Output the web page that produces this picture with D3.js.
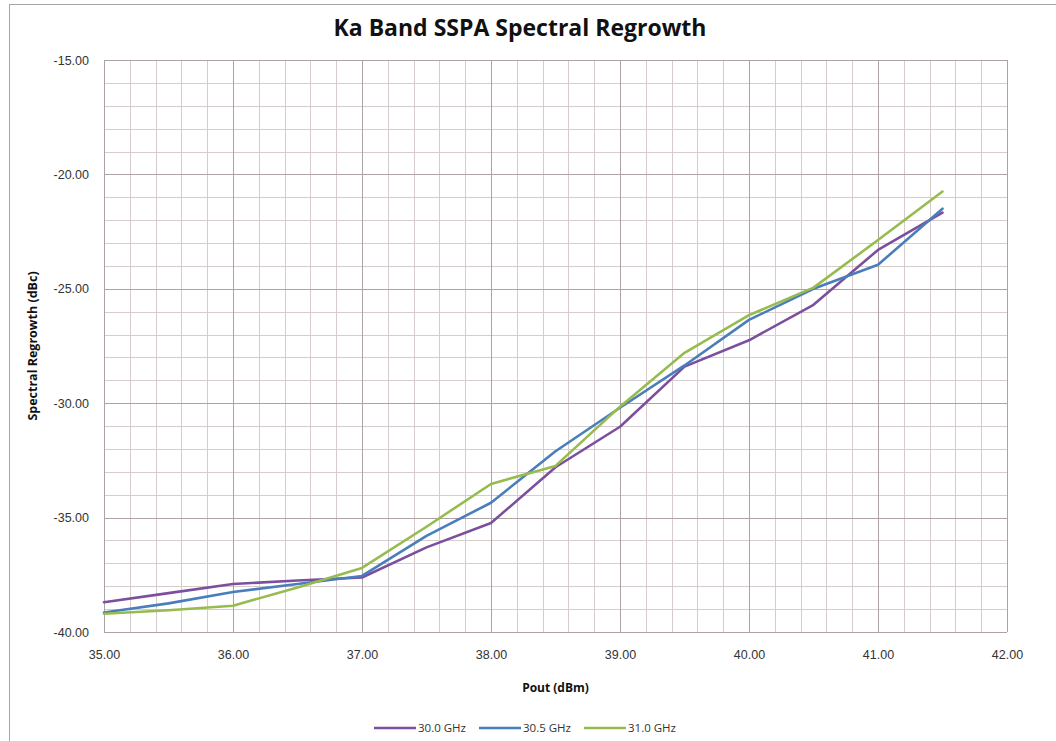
<!DOCTYPE html>
<html>
<head>
<meta charset="utf-8">
<script src="https://cdn.jsdelivr.net/npm/d3@7"></script>
<style>
  body { margin: 0; background: #fff; }
  svg { display: block; font-family: "Open Sans", "DejaVu Sans", sans-serif; }
</style>
</head>
<body>
<div id="chart"></div>
<script>
const width = 1056, height = 741,
    margin = ({ top: 60, right: 49, bottom: 109, left: 104 });

// data
const pout = [35, 35.5, 36, 36.5, 37, 37.5, 38, 38.5, 39, 39.5, 40, 40.5, 41, 41.5];
const ghz300 = [-38.7, -38.3, -37.9, -37.75, -37.62, -36.3, -35.24, -32.8, -31.03, -28.4, -27.25, -25.7, -23.3, -21.67];
const ghz305 = [-39.15, -38.75, -38.25, -37.9, -37.55, -35.8, -34.35, -32.1, -30.2, -28.35, -26.36, -25.0, -23.95, -21.5];
const ghz310 = [-39.2, -39.05, -38.85, -38.05, -37.2, -35.4, -33.53, -32.74, -30.15, -27.8, -26.15, -24.95, -22.87, -20.75];
const seriesNames = ["30.0 GHz", "30.5 GHz", "31.0 GHz"];
const seriesColors = ["#7b4f9e", "#4a7ebb", "#97bb4f"];
const xTicks = [35, 36, 37, 38, 39, 40, 41, 42];
const yTicks = [-15, -20, -25, -30, -35, -40];

const series = [ghz300, ghz305, ghz310].map((vals, i) => ({
  name: seriesNames[i],
  color: seriesColors[i],
  values: vals.map((v, j) => ({ x: pout[j], y: v }))
}));

const svg = d3.select("#chart")
  .append("svg")
  .attr("width", width)
  .attr("height", height);

// outer chart border
svg.append("rect")
  .attr("x", 9.5).attr("y", 4.5)
  .attr("width", width + 20).attr("height", height + 20)
  .attr("fill", "none")
  .attr("stroke", "#a6a6a6");

let x = d3.scaleLinear()
  .domain([35, 42])
  .range([margin.left, width - margin.right]);

let y = d3.scaleLinear()
  .domain([-40, -15])
  .range([height - margin.bottom, margin.top]);

// grid: minor lines first, then the major ones on top
const grid = svg.append("g");
const xMinor = d3.range(35, 42.001, 0.2);
const yMinor = d3.range(-40, -14.999, 1);

grid.selectAll(".vminor")
  .data(xMinor)
  .join("line")
  .attr("x1", d => Math.round(x(d)) + 0.5)
  .attr("x2", d => Math.round(x(d)) + 0.5)
  .attr("y1", y(-15)).attr("y2", y(-40))
  .attr("stroke", "#d5cccb");

grid.selectAll(".hminor")
  .data(yMinor)
  .join("line")
  .attr("y1", d => Math.round(y(d)) + 0.5)
  .attr("y2", d => Math.round(y(d)) + 0.5)
  .attr("x1", x(35)).attr("x2", x(42))
  .attr("stroke", "#d5cccb");

grid.selectAll(".vmajor")
  .data(xTicks)
  .join("line")
  .attr("x1", d => Math.round(x(d)) + 0.5)
  .attr("x2", d => Math.round(x(d)) + 0.5)
  .attr("y1", y(-15)).attr("y2", y(-40))
  .attr("stroke", "#ada3a2");

grid.selectAll(".hmajor")
  .data(yTicks)
  .join("line")
  .attr("y1", d => Math.round(y(d)) + 0.5)
  .attr("y2", d => Math.round(y(d)) + 0.5)
  .attr("x1", x(35)).attr("x2", x(42))
  .attr("stroke", "#ada3a2");

// axes, only the labels are kept (hyphen minus like the original)
svg.append("g")
  .attr("transform", `translate(0,${height - margin.bottom})`)
  .call(d3.axisBottom(x).tickValues(xTicks).tickFormat(d => d.toFixed(2)).tickSize(0).tickPadding(18))
  .call(g => g.select(".domain").remove())
  .selectAll("text")
  .attr("font-size", 12.5)
  .attr("fill", "#333");

svg.append("g")
  .attr("transform", `translate(${margin.left},0)`)
  .call(d3.axisLeft(y).tickValues(yTicks).tickFormat(d => d.toFixed(2)).tickSize(0).tickPadding(15))
  .call(g => g.select(".domain").remove())
  .selectAll("text")
  .attr("font-size", 12.5)
  .attr("fill", "#333");

// lines
const line = d3.line().x(d => x(d.x)).y(d => y(d.y));

svg.append("g")
  .selectAll("path")
  .data(series)
  .join("path")
  .attr("d", d => line(d.values))
  .attr("fill", "none")
  .attr("stroke", d => d.color)
  .attr("stroke-width", 2.6)
  .attr("stroke-linejoin", "round")
  .attr("stroke-linecap", "round");

// titles
svg.append("text")
  .attr("x", 520).attr("y", 36)
  .attr("text-anchor", "middle")
  .attr("font-size", 23)
  .attr("font-weight", "bold")
  .attr("fill", "#111")
  .text("Ka Band SSPA Spectral Regrowth");

svg.append("text")
  .attr("x", (x(35) + x(42)) / 2).attr("y", 692)
  .attr("text-anchor", "middle")
  .attr("font-size", 12)
  .attr("font-weight", "bold")
  .attr("fill", "#111")
  .text("Pout (dBm)");

svg.append("text")
  .attr("transform", `translate(37,${(y(-15) + y(-40)) / 2}) rotate(-90)`)
  .attr("text-anchor", "middle")
  .attr("font-size", 12.5)
  .attr("font-weight", "bold")
  .attr("fill", "#111")
  .text("Spectral Regrowth (dBc)");

// legend
const legend = svg.append("g")
  .selectAll("g")
  .data(series)
  .join("g")
  .attr("transform", (d, i) => `translate(${374 + i * 105},728)`);

legend.append("line")
  .attr("x1", 0).attr("x2", 42)
  .attr("stroke", d => d.color)
  .attr("stroke-width", 2.6);

legend.append("text")
  .attr("x", 44).attr("y", 4)
  .attr("font-size", 11.5)
  .attr("fill", "#333")
  .text(d => d.name);
</script>
</body>
</html>
